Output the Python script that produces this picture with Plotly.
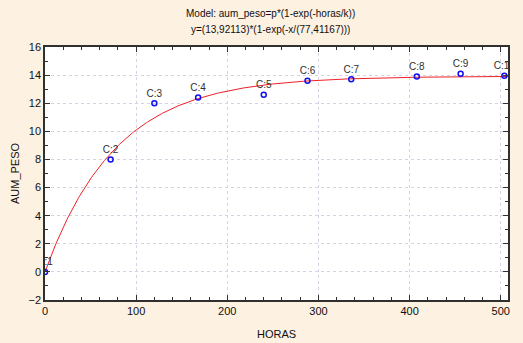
import numpy as np
import plotly.graph_objects as go

# Observations: hours vs weight gain
labels = ["C:1", "C:2", "C:3", "C:4", "C:5", "C:6", "C:7", "C:8", "C:9", "C:10"]
horas = [0, 72, 120, 168, 240, 288, 336, 408, 456, 504]
aum_peso = [0.0, 8.0, 12.0, 12.4, 12.6, 13.6, 13.7, 13.9, 14.1, 13.95]

# Fitted model parameters
p_fit = 13.92113
k_fit = 77.41167

x_tick_vals = [0, 100, 200, 300, 400, 500]
y_tick_vals = [-2, 0, 2, 4, 6, 8, 10, 12, 14, 16]

title_lines = [
    "Model: aum_peso=p*(1-exp(-horas/k))",
    "y=(13,92113)*(1-exp(-x/(77,41167)))",
]

x_curve = np.linspace(0, 510, 400)
y_curve = p_fit * (1 - np.exp(-x_curve / k_fit))

font_family = "Liberation Sans, Arial, sans-serif"

fig = go.Figure()
fig.add_trace(go.Scatter(
    x=x_curve, y=y_curve, mode="lines",
    line=dict(color="#F0202A", width=1),
    hoverinfo="skip", showlegend=False,
))
fig.add_trace(go.Scatter(
    x=horas, y=aum_peso, mode="markers+text",
    text=labels, textposition="top center",
    textfont=dict(family=font_family, size=10, color="#303030"),
    marker=dict(symbol="circle-open", size=5, color="#1010F0", line=dict(width=1.5)),
    cliponaxis=True, showlegend=False,
))

axis_common = dict(
    showline=True, linecolor="#303030", linewidth=1.5, mirror="allticks",
    ticks="inside", ticklen=5, tickcolor="#303030", tickwidth=1,
    showgrid=True, gridcolor="#D6D2E4", griddash="dot", gridwidth=1,
    zeroline=False, automargin=False,
    tickfont=dict(family=font_family, size=11, color="#101010"),
)

fig.update_xaxes(
    range=[0, 508], tickvals=x_tick_vals,
    minor=dict(dtick=20, ticks="inside", ticklen=3, tickcolor="#303030", showgrid=False),
    title=dict(text="HORAS", font=dict(family=font_family, size=11, color="#101010"), standoff=14),
    **axis_common,
)
fig.update_yaxes(
    range=[-2, 16], tickvals=y_tick_vals,
    minor=dict(dtick=1, ticks="inside", ticklen=3, tickcolor="#303030", showgrid=False),
    title=dict(text="AUM_PESO", font=dict(family=font_family, size=11, color="#101010"), standoff=7),
    **axis_common,
)

for i, line in enumerate(title_lines):
    fig.add_annotation(
        text=line, xref="paper", yref="paper",
        x=0.488, y=1.0, xanchor="center", yanchor="middle",
        yshift=34 - 16 * i, showarrow=False,
        font=dict(family=font_family, size=10, color="#101010"),
    )

fig.update_layout(
    width=523, height=343,
    margin=dict(l=45, r=15, t=47, b=43),
    paper_bgcolor="#FDF1E2",
    plot_bgcolor="#FFFFFF",
)

fig.write_html("out.html")
